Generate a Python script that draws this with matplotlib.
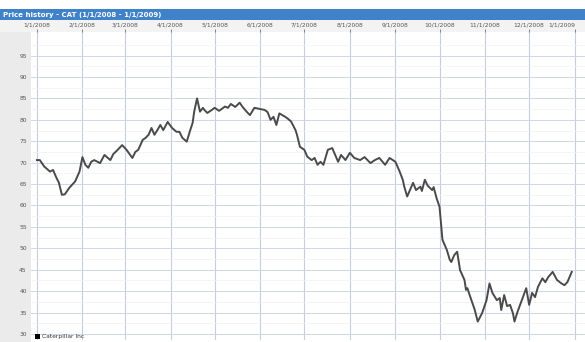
import numpy as np
import matplotlib
matplotlib.use("Agg")
import matplotlib.pyplot as plt
import matplotlib.dates as mdates
from matplotlib.patches import Rectangle

# day offsets from 1/1/2008 and closing prices
days = [0, 2, 5, 9, 11, 13, 15, 17, 19, 22, 26, 29, 31, 33, 35, 37, 39, 43, 46, 50,
        52, 55, 58, 61, 62, 65, 67, 69, 72, 74, 76, 78, 80, 82, 84, 86, 89, 92, 95, 97,
        99, 102, 104, 106, 107, 109, 111, 113, 114, 116, 119, 121, 124, 128, 130, 132, 135, 138, 140, 143,
        145, 148, 152, 155, 157, 159, 161, 163, 165, 169, 171, 173, 176, 177, 179, 182, 184, 187, 189, 191,
        193, 195, 198, 201, 203, 205, 207, 210, 213, 216, 220, 223, 227, 230, 233, 237, 240, 244, 247, 249,
        250, 252, 256, 258, 261, 262, 264, 266, 269, 270, 272, 274, 276, 279, 281, 282, 284, 286, 288, 290,
        291, 292, 293, 294, 298, 300, 303, 306, 308, 310, 313, 315, 316, 318, 320, 322, 324, 325, 327, 330,
        333, 335, 337, 339, 341, 344, 346, 348, 351, 354, 357, 359, 361, 364]
prices = [70.6, 70.6, 69.1, 67.9, 68.3, 66.7, 65.3, 62.5, 62.6, 64.1, 65.6, 67.9, 71.3, 69.5, 68.8, 70.2, 70.6, 69.9, 71.8, 70.6,
          72.0, 73.0, 74.1, 73.0, 72.5, 71.1, 72.5, 73.0, 75.3, 75.8, 76.5, 78.1, 76.5, 77.6, 78.8, 77.6, 79.5, 78.1, 77.2, 77.2,
          75.8, 74.9, 77.2, 79.3, 81.8, 85.0, 81.9, 82.8, 82.3, 81.6, 82.3, 82.8, 82.1, 83.1, 82.8, 83.7, 83.0, 84.0, 83.0, 81.8,
          81.1, 82.8, 82.5, 82.3, 81.8, 80.0, 80.7, 78.8, 81.5, 80.7, 80.2, 79.6, 77.6, 76.5, 73.7, 73.0, 71.4, 70.6, 71.1, 69.5,
          70.2, 69.5, 73.0, 73.4, 71.8, 70.2, 71.8, 70.6, 72.3, 71.1, 70.6, 71.3, 69.9, 70.6, 71.1, 69.5, 71.1, 70.2, 67.8, 66.0,
          64.4, 62.1, 65.3, 63.6, 64.4, 63.4, 66.0, 64.6, 63.6, 64.3, 61.7, 59.7, 52.0, 49.6, 47.3, 46.8, 48.4, 49.2, 44.9, 43.4,
          42.6, 40.3, 40.7, 39.6, 35.6, 32.9, 34.9, 37.9, 41.8, 39.6, 37.9, 38.4, 35.6, 39.1, 36.5, 36.8, 34.8, 32.9, 35.1, 37.9,
          40.7, 36.8, 39.6, 38.6, 41.0, 43.0, 42.1, 43.3, 44.5, 42.6, 41.8, 41.4, 42.1, 44.5]

y_ticks = list(range(30, 100, 5))
title = "Price history - CAT (1/1/2008 - 1/1/2009)"
series_name = "Caterpillar Inc"

start = np.datetime64("2008-01-01")
dates = start + np.array(days, dtype="timedelta64[D]")
month_ticks = [np.datetime64(f"2008-{m:02d}-01") for m in range(1, 13)] + [np.datetime64("2009-01-01")]

W, H = 585, 342
fig = plt.figure(figsize=(W / 100, H / 100), dpi=100)
fig.patch.set_facecolor("white")

# left gutter and header strips
fig.add_artist(Rectangle((0, 0), 31 / W, 1 - 20 / H, transform=fig.transFigure,
                         facecolor="#ebebeb", edgecolor="none", zorder=0))
fig.add_artist(Rectangle((0, 1 - 32 / H), 1, 12 / H, transform=fig.transFigure,
                         facecolor="#f3f3f3", edgecolor="none", zorder=0))
fig.add_artist(Rectangle((0, 1 - 20 / H), 1, 11 / H, transform=fig.transFigure,
                         facecolor="#3f82c9", edgecolor="none", zorder=1))
fig.text(3 / W, 1 - 14.5 / H, title, color="white", fontsize=5, fontweight="bold",
         va="center", ha="left", zorder=2)

ax = fig.add_axes([31 / W, 2 / H, (W - 31) / W, (340 - 32) / H])
ax.plot(dates, prices, color="#4a4a4a", lw=1.4, zorder=3)

ax.set_xlim(start - np.timedelta64(4, "D"), start + np.timedelta64(373, "D"))
ax.set_ylim(28.6, 100.5)

ax.xaxis.tick_top()
ax.set_xticks(month_ticks)
ax.xaxis.set_major_formatter(plt.FuncFormatter(
    lambda v, p: (lambda d: f"{d.month}/{d.day}/{d.year}")(mdates.num2date(v))))
ax.set_yticks(y_ticks)
ax.set_yticks(np.arange(32.5, 100, 5), minor=True)
ax.tick_params(axis="x", which="major", labelsize=4.3, colors="#555555", length=2,
               pad=1.5, width=0.5)
ax.tick_params(axis="y", which="major", labelsize=4.3, colors="#555555", length=0, pad=3)
ax.tick_params(axis="y", which="minor", length=0)

# last date label sits at the right edge, keep it inside the figure
fig.canvas.draw()
ax.get_xticklabels()[-1].set_horizontalalignment("right")
ax.get_xticklabels()[-1].set_x(ax.get_xticklabels()[-1].get_position()[0])

ax.grid(axis="x", color="#c6cde0", lw=0.8)
ax.grid(axis="y", which="major", color="#cfd6e8", lw=0.7)
ax.grid(axis="y", which="minor", color="#eef0f6", lw=0.5)
ax.set_axisbelow(True)
for s in ax.spines.values():
    s.set_visible(False)

# legend at the bottom
fig.add_artist(Rectangle((35 / W, 3 / H), 5 / W, 5 / H, transform=fig.transFigure,
                         facecolor="black", edgecolor="none", zorder=5))
fig.text(42 / W, 5.5 / H, series_name, fontsize=4.3, color="#333333",
         va="center", ha="left", zorder=5)

fig.savefig("out.png", dpi=100)
